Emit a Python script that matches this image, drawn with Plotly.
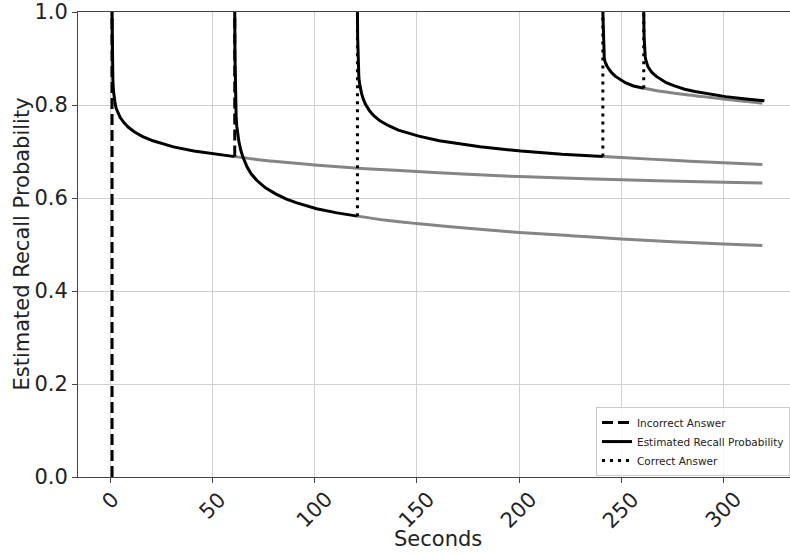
import plotly.graph_objects as go

# ---------------- data ----------------
review_times = [1, 61, 121, 241, 261]
review_results = ["Incorrect Answer", "Incorrect Answer", "Correct Answer",
                  "Correct Answer", "Correct Answer"]
recall_before_review = [0.0, 0.689, 0.561, 0.689, 0.836]
recall_after_review = [1.0, 1.0, 1.0, 1.0, 1.0]

# estimated recall probability after each review (black)
curve_a_t = [1.0, 1.02, 1.05, 1.1, 1.2, 1.4, 1.7, 2.0, 2.5, 3.0, 4.0, 5.0, 7.0,
             9.0, 12.0, 16.0, 21.0, 26.0, 31.0, 41.0, 51.0, 61.0]
curve_a_p = [1.0, 0.979, 0.941, 0.912, 0.885, 0.855, 0.830, 0.818, 0.803, 0.793,
             0.781, 0.773, 0.761, 0.752, 0.742, 0.732, 0.723, 0.716, 0.710,
             0.701, 0.695, 0.689]
curve_b_t = [61.0, 61.03, 61.05, 61.1, 61.2, 61.4, 61.7, 62.0, 62.5, 63.0, 64.0,
             65.0, 67.0, 69.0, 72.0, 76.0, 81.0, 86.0, 91.0, 101.0, 111.0, 121.0]
curve_b_p = [1.0, 0.996, 0.958, 0.909, 0.863, 0.805, 0.771, 0.754, 0.735, 0.722,
             0.702, 0.688, 0.667, 0.652, 0.637, 0.622, 0.609, 0.598, 0.590,
             0.577, 0.568, 0.561]
curve_c_t = [121.0, 121.03, 121.05, 121.1, 121.2, 121.4, 121.7, 122.0, 122.5,
             123.0, 124.0, 125.0, 127.0, 129.0, 132.0, 136.0, 141.0, 151.0,
             161.0, 171.0, 181.0, 201.0, 221.0, 241.0]
curve_c_p = [1.0, 0.997, 0.975, 0.945, 0.912, 0.877, 0.858, 0.847, 0.835, 0.825,
             0.811, 0.801, 0.787, 0.777, 0.766, 0.756, 0.746, 0.733, 0.723,
             0.716, 0.710, 0.701, 0.694, 0.689]
curve_d_t = [241.0, 241.03, 241.05, 241.1, 241.2, 241.4, 241.7, 242.0, 242.5,
             243.0, 244.0, 245.0, 247.0, 249.0, 252.0, 256.0, 261.0]
curve_d_p = [1.0, 0.994, 0.980, 0.958, 0.932, 0.913, 0.901, 0.894, 0.888, 0.884,
             0.877, 0.871, 0.862, 0.856, 0.848, 0.841, 0.836]
curve_e_t = [261.0, 261.035, 261.05, 261.1, 261.2, 261.4, 261.7, 262.0, 262.5,
             263.0, 264.0, 265.0, 267.0, 269.0, 272.0, 276.0, 281.0, 286.0,
             291.0, 301.0, 311.0, 320.0]
curve_e_p = [1.0, 0.997, 0.987, 0.966, 0.944, 0.921, 0.905, 0.897, 0.889, 0.883,
             0.876, 0.870, 0.862, 0.856, 0.848, 0.841, 0.834, 0.829, 0.825,
             0.818, 0.813, 0.809]

# continuation of each curve had there been no further review (gray)
gray_a_t = [61, 70, 80, 100, 125, 150, 175, 200, 250, 300, 319]
gray_a_p = [0.689, 0.684, 0.679, 0.671, 0.663, 0.657, 0.651, 0.646, 0.639,
            0.634, 0.632]
gray_b_t = [121, 135, 150, 175, 200, 225, 250, 275, 300, 319]
gray_b_p = [0.561, 0.552, 0.545, 0.535, 0.526, 0.519, 0.512, 0.506, 0.501, 0.498]
gray_c_t = [241, 250, 275, 300, 319]
gray_c_p = [0.689, 0.687, 0.681, 0.676, 0.672]
gray_d_t = [261, 270, 280, 290, 300, 310, 319]
gray_d_p = [0.836, 0.829, 0.823, 0.818, 0.813, 0.808, 0.804]

x_tick_values = [0, 50, 100, 150, 200, 250, 300]
x_tick_labels = ["0", "50", "100", "150", "200", "250", "300"]
y_tick_values = [0.0, 0.2, 0.4, 0.6, 0.8, 1.0]
y_tick_labels = ["0.0", "0.2", "0.4", "0.6", "0.8", "1.0"]

black_curves = [(curve_a_t, curve_a_p), (curve_b_t, curve_b_p),
                (curve_c_t, curve_c_p), (curve_d_t, curve_d_p),
                (curve_e_t, curve_e_p)]
gray_curves = [(gray_a_t, gray_a_p), (gray_b_t, gray_b_p),
               (gray_c_t, gray_c_p), (gray_d_t, gray_d_p)]

# ---------------- figure ----------------
FONT = "DejaVu Sans"
TXT = "#222222"
W, H = 790, 556
ML, MR, MT, MB = 78, 0, 7, 79
fig = go.Figure()

for t, p in gray_curves:
    fig.add_trace(go.Scatter(x=t, y=p, mode="lines", showlegend=False,
                             line=dict(color="#858585", width=3, shape="spline",
                                       smoothing=1.0),
                             hoverinfo="skip"))

dash_for = {"Incorrect Answer": "11px,5px", "Correct Answer": "3px,5px"}
rank_for = {"Incorrect Answer": 1, "Correct Answer": 3}
shown = set()
for t, kind, lo, hi in zip(review_times, review_results,
                           recall_before_review, recall_after_review):
    fig.add_trace(go.Scatter(x=[t, t], y=[lo, hi], mode="lines", name=kind,
                             showlegend=kind not in shown,
                             legendrank=rank_for[kind],
                             line=dict(color="black", width=3, dash=dash_for[kind])))
    shown.add(kind)

for i, (t, p) in enumerate(black_curves):
    fig.add_trace(go.Scatter(x=t, y=p, mode="lines",
                             name="Estimated Recall Probability",
                             showlegend=(i == 0), legendrank=2,
                             line=dict(color="black", width=3)))

plot_w = W - ML - MR
x0_px, px_per_unit = 110.0, 2.045
x_range = [(ML - x0_px) / px_per_unit, (W - x0_px) / px_per_unit]

axis_common = dict(showgrid=True, gridcolor="#d0d0d0", gridwidth=1,
                   zeroline=False, showline=True, linecolor="#444444",
                   linewidth=1, ticks="outside", ticklen=5, tickwidth=1,
                   tickcolor="#444444")

fig.update_layout(
    width=W, height=H,
    margin=dict(l=ML, r=MR, t=MT, b=MB, pad=0),
    paper_bgcolor="white", plot_bgcolor="white",
    font=dict(family=FONT, color=TXT),
    xaxis=dict(range=x_range, tickvals=x_tick_values, showticklabels=False,
               mirror=True, **axis_common),
    yaxis=dict(range=[0, 1], tickvals=y_tick_values, ticktext=y_tick_labels,
               tickfont=dict(size=21, family=FONT, color=TXT),
               ticklabeloverflow="allow", **axis_common),
    legend=dict(x=1, xanchor="right", y=0.002, yanchor="bottom",
                bgcolor="rgba(255,255,255,0.85)", bordercolor="#cccccc",
                borderwidth=1, font=dict(size=10.5, family=FONT, color=TXT),
                itemwidth=30, tracegroupgap=0),
    showlegend=True,
)

annotations = []
for v, lab in zip(x_tick_values, x_tick_labels):
    annotations.append(dict(x=v, y=0, xref="x", yref="paper", text=lab,
                            showarrow=False, textangle=-45, xanchor="center",
                            yanchor="top", yshift=-8,
                            font=dict(size=21, family=FONT, color=TXT)))
annotations.append(dict(x=(437.5 - ML) / plot_w, y=0, xref="paper", yref="paper",
                        text="Seconds", showarrow=False, xanchor="center",
                        yanchor="middle", yshift=-62,
                        font=dict(size=21, family=FONT, color=TXT)))
annotations.append(dict(x=(21 - ML) / plot_w, y=0.5, xref="paper", yref="paper",
                        text="Estimated Recall Probability", showarrow=False,
                        textangle=-90, xanchor="center", yanchor="middle",
                        font=dict(size=21, family=FONT, color=TXT)))
fig.update_layout(annotations=annotations)

fig.write_html("out.html")
